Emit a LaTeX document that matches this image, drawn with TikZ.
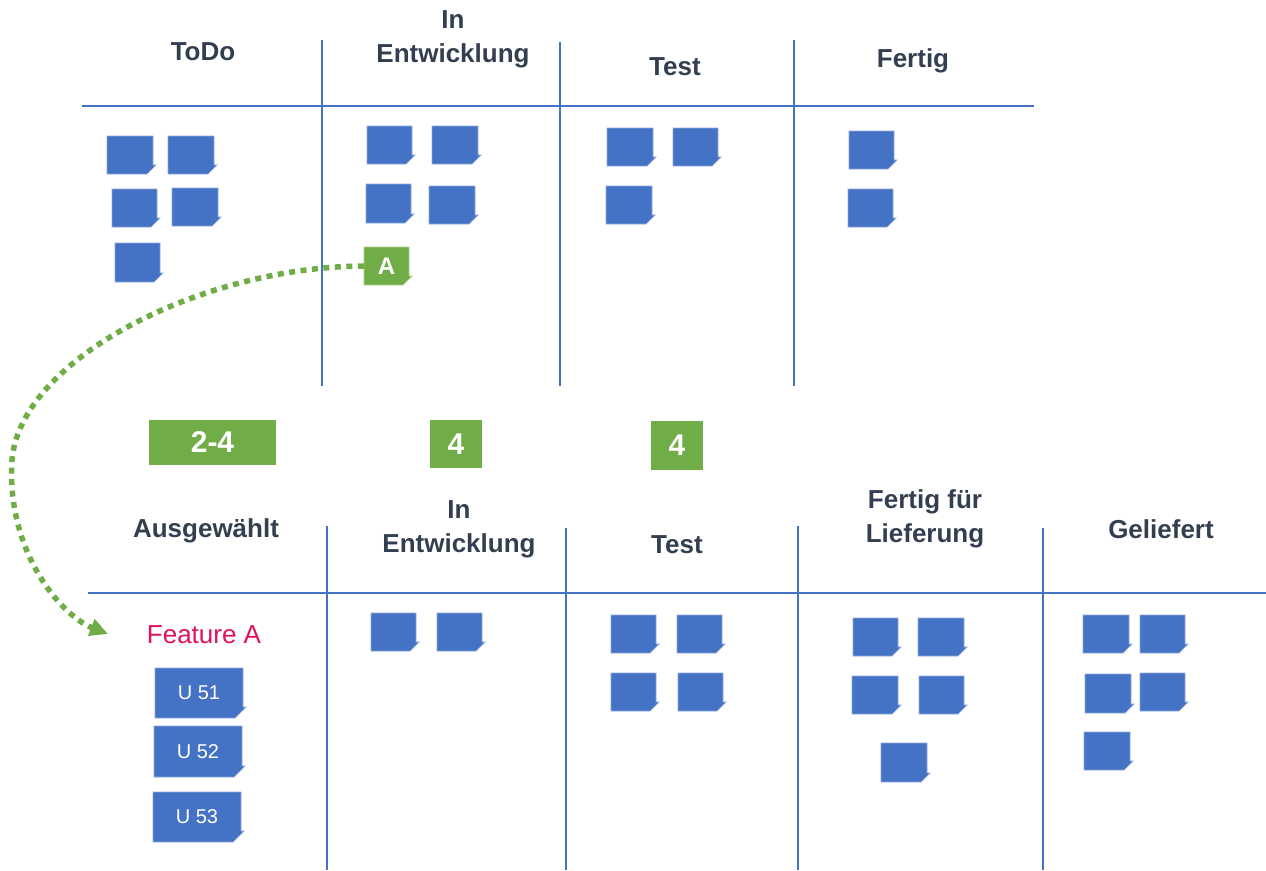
\documentclass[tikz,border=0pt]{standalone}
\usepackage{fontspec}
\setmainfont{Liberation Sans}
\usetikzlibrary{arrows.meta}
\definecolor{noteblue}{HTML}{4472C4}
\definecolor{noteedge}{HTML}{8FAADC}
\definecolor{notegreen}{HTML}{70AD47}
\definecolor{greenedge}{HTML}{A9D18E}
\definecolor{headtext}{HTML}{333F50}
\definecolor{featred}{HTML}{E0115F}
\definecolor{gridline}{HTML}{4472C4}
\newcommand\StickyNote[8]{% name, x0, y0, x1, y1, fold, style, text
  \filldraw[#7] (#2,#3) -- (#4,#3) -- (#4,#5-#6) -- (#4+3,#5-#6) -- (#4+3-#6,#5) -- (#2,#5) -- cycle;
  \node[notelabel, minimum width={#4-#2}, minimum height={#5-#3}] (#1) at ({(#2+#4)/2},{(#3+#5)/2}) {#8};}
\begin{document}
\begin{tikzpicture}[x=1pt,y=-1pt,
  grid/.style={draw=gridline, line width=1.2pt},
  head/.style={anchor=base, align=center, text=headtext, font=\fontsize{26}{34}\selectfont\bfseries, inner sep=0pt},
  bluenote/.style={fill=noteblue, draw=noteedge, line width=0.7pt},
  greennote/.style={fill=notegreen, draw=greenedge, line width=0.7pt},
  notelabel/.style={inner sep=0pt, text=white},
  wip/.style={fill=notegreen, text=white, inner sep=0pt, font=\fontsize{30}{36}\selectfont\bfseries},
  feat/.style={anchor=base, text=featred, inner sep=0pt, font=\fontsize{26}{30}\selectfont},
  flow/.style={draw=notegreen, line width=5.5pt, dash pattern=on 6pt off 5.5pt, -{Triangle[length=18pt,width=17pt]}}
]
\useasboundingbox (0,0) rectangle (1266,870);

% ---- top board ----
\draw[grid] (82,106) -- (1034,106);
\draw[grid] (322,40) -- (322,386);
\draw[grid] (560,42) -- (560,386);
\draw[grid] (794,40) -- (794,386);

\node[head] (hTodo) at (203,60) {ToDo};
\node[head] (hDev) at (453,62) {In\\Entwicklung};
\node[head] (hTest) at (675,75) {Test};
\node[head] (hDone) at (913,67) {Fertig};

% ToDo
\StickyNote{t1}{107}{136}{153}{174}{9}{bluenote}{}
\StickyNote{t2}{168}{136}{214}{174}{9}{bluenote}{}
\StickyNote{t3}{112}{189}{157}{227}{9}{bluenote}{}
\StickyNote{t4}{172}{188}{218}{226}{9}{bluenote}{}
\StickyNote{t5}{115}{243}{160}{282}{9}{bluenote}{}
% In Entwicklung
\StickyNote{d1}{367}{126}{412}{164}{9}{bluenote}{}
\StickyNote{d2}{432}{126}{478}{164}{9}{bluenote}{}
\StickyNote{d3}{366}{184}{411}{223}{9}{bluenote}{}
\StickyNote{d4}{429}{186}{475}{224}{9}{bluenote}{}
\StickyNote{A}{364}{247}{409}{285}{9}{greennote}{\fontsize{24}{28}\selectfont\bfseries A}
% Test
\StickyNote{s1}{607}{128}{653}{166}{9}{bluenote}{}
\StickyNote{s2}{673}{128}{718}{166}{9}{bluenote}{}
\StickyNote{s3}{606}{186}{652}{224}{9}{bluenote}{}
% Fertig
\StickyNote{f1}{849}{131}{894}{169}{9}{bluenote}{}
\StickyNote{f2}{848}{189}{893}{227}{9}{bluenote}{}

% ---- WIP limits ----
\node[wip, minimum width=127pt, minimum height=45pt] (w1) at (212.5,442.5) {2-4};
\node[wip, minimum width=52pt, minimum height=48pt] (w2) at (456,444) {4};
\node[wip, minimum width=52pt, minimum height=49pt] (w3) at (677,445.5) {4};

% ---- bottom board ----
\draw[grid] (88,593) -- (1266,593);
\draw[grid] (327,526) -- (327,870);
\draw[grid] (566,528) -- (566,870);
\draw[grid] (798,526) -- (798,870);
\draw[grid] (1043,528) -- (1043,870);

\node[head] (bSel) at (206,537) {Ausgewählt};
\node[head] (bDev) at (459,552) {In\\Entwicklung};
\node[head] (bTest) at (677,553) {Test};
\node[head] (bReady) at (925,542) {Fertig für\\Lieferung};
\node[head] (bShip) at (1161,538) {Geliefert};

\node[feat] (feat) at (204,643) {Feature A};
\StickyNote{u1}{155}{668}{243}{718}{11}{bluenote}{\fontsize{20}{24}\selectfont U 51}
\StickyNote{u2}{154}{726}{242}{777}{11}{bluenote}{\fontsize{20}{24}\selectfont U 52}
\StickyNote{u3}{153}{792}{241}{842}{11}{bluenote}{\fontsize{20}{24}\selectfont U 53}

% In Entwicklung
\StickyNote{e1}{371}{613}{416}{651}{9}{bluenote}{}
\StickyNote{e2}{437}{613}{482}{651}{9}{bluenote}{}
% Test
\StickyNote{x1}{611}{615}{656}{653}{9}{bluenote}{}
\StickyNote{x2}{677}{615}{722}{653}{9}{bluenote}{}
\StickyNote{x3}{611}{673}{656}{711}{9}{bluenote}{}
\StickyNote{x4}{678}{673}{723}{711}{9}{bluenote}{}
% Fertig fuer Lieferung
\StickyNote{r1}{853}{618}{898}{656}{9}{bluenote}{}
\StickyNote{r2}{918}{618}{964}{656}{9}{bluenote}{}
\StickyNote{r3}{852}{676}{898}{714}{9}{bluenote}{}
\StickyNote{r4}{919}{676}{964}{714}{9}{bluenote}{}
\StickyNote{r5}{881}{743}{927}{782}{9}{bluenote}{}
% Geliefert
\StickyNote{g1}{1083}{615}{1129}{653}{9}{bluenote}{}
\StickyNote{g2}{1140}{615}{1185}{653}{9}{bluenote}{}
\StickyNote{g3}{1085}{674}{1131}{713}{9}{bluenote}{}
\StickyNote{g4}{1140}{673}{1185}{711}{9}{bluenote}{}
\StickyNote{g5}{1084}{732}{1130}{770}{9}{bluenote}{}

% ---- flow arrow ----
\coordinate (arrEnd) at (108,634);
\draw[flow] (A.west) .. controls (200,267) and (20,360) .. (12,460)
  .. controls (6,550) and (60,615) .. (arrEnd);
\end{tikzpicture}
\end{document}
